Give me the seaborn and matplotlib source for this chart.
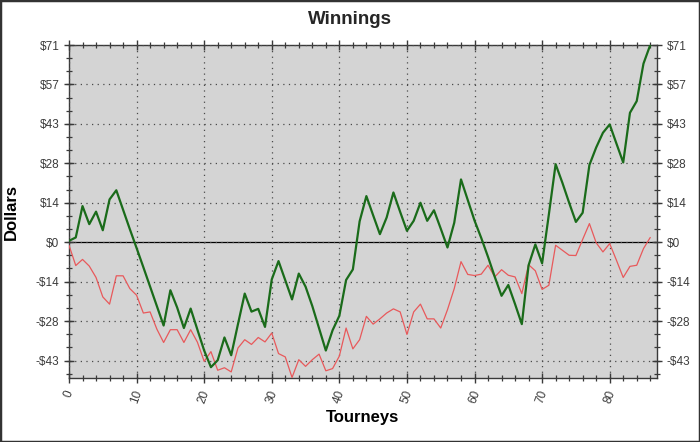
import matplotlib
matplotlib.use("Agg")
import matplotlib.pyplot as plt
import seaborn as sns
import pandas as pd
import numpy as np
from matplotlib.patches import Rectangle
from matplotlib.ticker import FixedLocator, MultipleLocator

# ---- data ----
tourneys = list(range(87))
green_winnings = [0.5, 1.7, 13, 6.5, 11, 4.3, 15.4, 18.7, 11.7, 4.7,
                  -2.1, -9, -16, -23, -30, -17.3, -23.5, -30.9, -23.9, -31.5,
                  -39, -45, -42.5, -34.3, -40.7, -29.5, -18.5, -25, -24, -30.5,
                  -13.4, -6.8, -13.7, -20.6, -11.3, -16, -23, -31, -39, -31.7,
                  -26.5, -13.6, -9.8, 7.5, 16.6, 9.7, 2.9, 8.9, 17.9, 10.9,
                  4.1, 7.7, 14.2, 7.7, 11.5, 4.9, -1.9, 7, 22.6, 15.2,
                  7.8, 1.5, -5.3, -12.5, -19.3, -15.4, -22.3, -29.5, -8.3, -0.8,
                  -7.6, 10, 28.1, 21.4, 14.2, 7.3, 10.6, 27.8, 34.1, 39.4,
                  42.4, 35.5, 28.7, 46.6, 50.8, 64.3, 71]
red_winnings = [-1.1, -8.4, -6.2, -8.6, -12.7, -19.7, -22.3, -12.1, -12.1, -16.7,
                -19.1, -25.5, -25.1, -31.3, -36.1, -31.5, -31.5, -36.1, -31.5, -36,
                -42.9, -39.4, -46.1, -45.2, -46.7, -38.1, -35.1, -36.8, -34.3, -35.9,
                -32.7, -40.1, -41.3, -48.7, -42.3, -44.7, -42.3, -40.3, -46.3, -45.5,
                -41, -30.9, -38.4, -35.1, -26.7, -29.5, -27.6, -25.5, -24, -25.1,
                -33.2, -25.1, -22.3, -27.6, -27.6, -30.9, -24.3, -16.7, -7, -11.6,
                -12, -11.5, -8.3, -12.5, -9.9, -11.9, -12.5, -18.5, -8.1, -10.3,
                -17, -15.5, -1.1, -2.9, -4.7, -4.8, 1, 6.7, -0.2, -3.5,
                -0.5, -6.5, -12.7, -8.7, -8.3, -2.3, 1.7]
y_tick_values = [-42.6, -28.4, -14.2, 0, 14.2, 28.4, 42.6, 56.8, 71]
y_tick_labels = ["-$43", "-$28", "-$14", "$0", "$14", "$28", "$43", "$57", "$71"]
x_tick_values = [0, 10, 20, 30, 40, 50, 60, 70, 80]

df = pd.DataFrame({"Tourneys": tourneys, "green": green_winnings, "red": red_winnings})

sns.set_style("ticks")
plt.rcParams["font.family"] = ["Liberation Sans", "DejaVu Sans"]

fig = plt.figure(figsize=(7, 4.42), dpi=100)
ax = fig.add_axes([69/700, 1-378.3/442, 588/700, 333.3/442])
ax.set_facecolor("#d4d4d4")

ax.axhline(0, color="black", linewidth=0.9, zorder=2)
sns.lineplot(data=df, x="Tourneys", y="red", color="#e8595b", linewidth=0.9, ax=ax, zorder=3)
sns.lineplot(data=df, x="Tourneys", y="green", color="#1a6b1a", linewidth=1.6, ax=ax, zorder=4)

ax.set_xlim(0, 87)
ax.set_ylim(-49, 71)
ax.yaxis.set_major_locator(FixedLocator(y_tick_values))
ax.set_yticklabels(y_tick_labels)
ax.yaxis.set_minor_locator(FixedLocator(np.arange(-47.33, 71.1, 14.2/3)))
ax.xaxis.set_major_locator(FixedLocator(x_tick_values))
ax.set_xticklabels([str(v) for v in x_tick_values], rotation=70, ha="center")
ax.xaxis.set_minor_locator(MultipleLocator(2))

ax.grid(True, which="major", color="#4a4a4a", linestyle=(0, (1, 3.5)), linewidth=0.9)
ax.set_axisbelow(False)

for s in ax.spines.values():
    s.set_color("#3a3a3a")
    s.set_linewidth(1.0)

ax.tick_params(axis="both", which="major", direction="inout", length=7, width=1.0,
               color="#3a3a3a", labelsize=8.5, labelcolor="#3c3c3c")
ax.tick_params(axis="both", which="minor", direction="inout", length=5, width=0.9,
               color="#3a3a3a")
ax.tick_params(axis="y", which="both", right=True, labelright=True)
ax.tick_params(axis="x", which="both", top=True, labeltop=False)
ax.tick_params(axis="x", which="major", pad=4)

ax.set_xlabel("Tourneys", fontsize=12, fontweight="bold", color="black")
ax.set_ylabel("Dollars", fontsize=12, fontweight="bold", color="black")
ax.xaxis.set_label_coords(0.5, -0.095)
ax.yaxis.set_label_coords(-0.085, 0.5)

fig.text(0.5, 1-20/442, "Winnings", ha="center", va="center", fontsize=13.5, fontweight="bold")

fig.patches.append(Rectangle((0, 0), 1, 1, transform=fig.transFigure, fill=False,
                             edgecolor="#333333", linewidth=2.5))

fig.savefig("out.png", dpi=100, facecolor="white")
